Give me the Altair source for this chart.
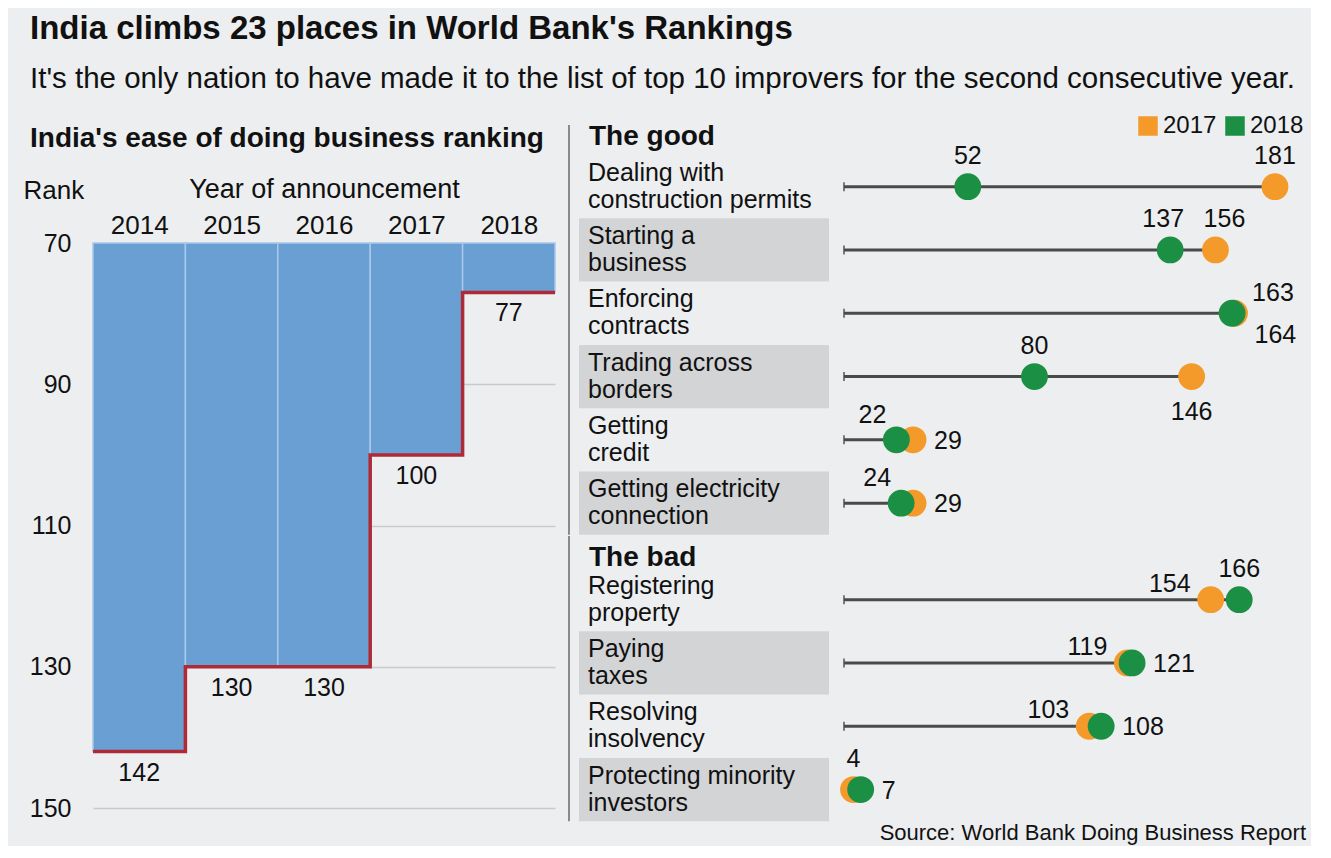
import json
import altair as alt
import pandas as pd

# ---------------- data ----------------
years = ["2014", "2015", "2016", "2017", "2018"]
overall_rank = [142, 130, 130, 100, 77]

good_categories = [
    "Dealing with\nconstruction permits",
    "Starting a\nbusiness",
    "Enforcing\ncontracts",
    "Trading across\nborders",
    "Getting\ncredit",
    "Getting electricity\nconnection",
]
good_2017 = [181, 156, 164, 146, 29, 29]
good_2018 = [52, 137, 163, 80, 22, 24]

bad_categories = [
    "Registering\nproperty",
    "Paying\ntaxes",
    "Resolving\ninsolvency",
    "Protecting minority\ninvestors",
]
bad_2017 = [154, 119, 103, 4]
bad_2018 = [166, 121, 108, 7]

# label placement (style, not data)
good_pos_2017 = ["above", "above-r", "right-below", "below", "right", "right"]
good_pos_2018 = ["above", "above-l", "right-above", "above", "above-left", "above-left"]
bad_pos_2017 = ["left-above", "left-above", "left-above", "above"]
bad_pos_2018 = ["above", "right", "right", "right"]

# ---------------- style ----------------
FONT = "Liberation Sans"
BG = "#eceef0"
BLUE = "#6a9fd4"
RED = "#b02a36"
ORANGE = "#f39a2b"
GREEN = "#1b8f43"
BAND = "#d3d4d6"
TXT = "#111111"
NUM = 25

PLACEMENTS = {
    "above": dict(align="center", dx=0, dy=-31),
    "above-l": dict(align="center", dx=-7, dy=-31),
    "above-r": dict(align="center", dx=9, dy=-31),
    "below": dict(align="center", dx=0, dy=35),
    "right": dict(align="left", dx=21, dy=1),
    "right-above": dict(align="left", dx=20, dy=-20),
    "right-below": dict(align="left", dx=20, dy=22),
    "above-left": dict(align="right", dx=-10, dy=-25),
    "left-above": dict(align="right", dx=-20, dy=-16),
}

# ---------------- left panel ----------------
n = len(years)
ldf = pd.DataFrame({
    "year": years,
    "rank": overall_rank,
    "x0": list(range(n)),
    "x1": list(range(1, n + 1)),
    "xc": [i + 0.5 for i in range(n)],
})
step_df = pd.DataFrame({
    "x": list(range(n + 1)),
    "rank": overall_rank + [overall_rank[-1]],
})

TOP = 88        # space above rank 70 inside the left panel
LH = 653        # left panel height
xs_l = alt.Scale(domain=[0, n], nice=False, zero=False)
ys_l = alt.Scale(domain=[70, 150], range=[TOP, LH], nice=False, zero=False)

x_axis = alt.Axis(
    orient="top", offset=-TOP, values=[i + 0.5 for i in range(n)],
    labelExpr=f"{json.dumps(years)}[floor(datum.value)]",
    ticks=False, domain=False, grid=False,
    labelFontSize=26, labelPadding=5, labelColor=TXT,
    title="Year of announcement", titleFontSize=27, titleFontWeight="normal",
    titlePadding=9, titleColor=TXT,
)
y_axis = alt.Axis(
    values=[70, 90, 110, 130, 150], ticks=False, domain=False, grid=True,
    gridColor="#c9cacc", gridWidth=1.5,
    labelFontSize=25, labelPadding=22, labelColor=TXT,
    title="Rank", titleAngle=0, titleAlign="left", titleBaseline="middle",
    titleX=-70, titleY=35, titleFontSize=26, titleFontWeight="normal", titleColor=TXT,
)

bars = alt.Chart(ldf).mark_bar(color=BLUE, stroke="#a8c9ea", strokeWidth=1.5).encode(
    x=alt.X("x0:Q", scale=xs_l, axis=x_axis),
    x2="x1:Q",
    y=alt.Y("rank:Q", scale=ys_l, axis=y_axis),
    y2=alt.datum(70),
)
step = alt.Chart(step_df).mark_line(interpolate="step-after", color=RED, strokeWidth=3.5).encode(
    x=alt.X("x:Q", scale=xs_l),
    y=alt.Y("rank:Q", scale=ys_l),
)
rank_labels = alt.Chart(ldf).mark_text(dy=21, fontSize=NUM, color=TXT, baseline="middle").encode(
    x=alt.X("xc:Q", scale=xs_l),
    y=alt.Y("rank:Q", scale=ys_l),
    text="rank:Q",
)

left = alt.layer(bars, step, rank_labels).properties(
    width=462, height=LH,
    title=alt.TitleParams(
        "India's ease of doing business ranking", anchor="start", fontSize=28,
        fontWeight="bold", color=TXT, offset=2, dx=7,
    ),
)

# ---------------- right panel ----------------
X0 = 265
PX = 2.381
XMAX = 190
ROW = 63.3


def dumbbell(cats, v17, v18, pos17, pos18, header, legend, extra=None):
    rows = []
    for i, c in enumerate(cats):
        rows.append(dict(cat=c, year="2017", value=v17[i], pos=pos17[i], order=0))
        rows.append(dict(cat=c, year="2018", value=v18[i], pos=pos18[i], order=1))
    pts = pd.DataFrame(rows)
    seg = pd.DataFrame({
        "cat": cats,
        "lo": [0] * len(cats),
        "hi": [max(a, b) for a, b in zip(v17, v18)],
        "shade": [i % 2 == 1 for i in range(len(cats))],
    })
    h = ROW * len(cats)
    y = alt.Y("cat:N", scale=alt.Scale(domain=cats, paddingInner=0, paddingOuter=0), axis=None)
    xs = alt.Scale(domain=[0, XMAX], range=[X0, X0 + XMAX * PX], nice=False, zero=False)

    bands = alt.Chart(seg).transform_filter("datum.shade").mark_rect(color=BAND).encode(
        x=alt.value(0), x2=alt.value(250), y=y,
    )
    names = alt.Chart(seg).mark_text(
        align="left", baseline="middle", fontSize=25, lineBreak="\n", lineHeight=27,
        color=TXT, dy=-14,
    ).encode(x=alt.value(9), y=y, text="cat:N")
    lines = alt.Chart(seg).mark_rule(color="#4a4a4a", strokeWidth=3).encode(
        x=alt.X("lo:Q", scale=xs, axis=None), x2="hi:Q", y=y,
    )
    caps = alt.Chart(seg).mark_tick(color="#4a4a4a", thickness=2, size=9, orient="vertical").encode(
        x=alt.X("lo:Q", scale=xs, axis=None), y=y,
    )
    color = alt.Color(
        "year:N", scale=alt.Scale(domain=["2017", "2018"], range=[ORANGE, GREEN]),
        legend=(alt.Legend(
            orient="none", legendX=557, legendY=-41, direction="horizontal", title=None,
            symbolType="square", symbolSize=380, symbolOpacity=1, labelFontSize=24,
            labelColor=TXT, columnPadding=6, labelOffset=3,
        ) if legend else None),
    )
    dots = alt.Chart(pts).mark_circle(size=720, opacity=1).encode(
        x=alt.X("value:Q", scale=xs, axis=None), y=y, color=color,
        order=alt.Order("order:Q"),
    )
    labels = []
    for name, p in PLACEMENTS.items():
        labels.append(
            alt.Chart(pts).transform_filter(alt.datum.pos == name).mark_text(
                fontSize=NUM, baseline="middle", color=TXT, **p,
            ).encode(x=alt.X("value:Q", scale=xs, axis=None), y=y, text="value:Q")
        )
    one = pd.DataFrame({"a": [0]})
    divider = alt.Chart(one).mark_rule(color="#8a8a8a", strokeWidth=2).encode(
        x=alt.value(-10), y=alt.value(-32 if not legend else -30), y2=alt.value(h),
    )
    head = alt.Chart(one).mark_text(
        text=header, align="left", baseline="middle", fontSize=28, fontWeight="bold", color=TXT,
    ).encode(x=alt.value(10), y=alt.value(-18 if legend else -10))
    layers = [bands, divider, head, names, lines, caps, dots] + labels
    if extra is not None:
        layers.append(extra)
    return alt.layer(*layers).properties(width=730, height=h)


source = alt.Chart(pd.DataFrame({"a": [0]})).mark_text(
    text="Source: World Bank Doing Business Report", align="right", baseline="middle",
    fontSize=22, color=TXT,
).encode(x=alt.value(727), y=alt.value(265))

good = dumbbell(good_categories, good_2017, good_2018, good_pos_2017, good_pos_2018, "The good", True)
bad = dumbbell(bad_categories, bad_2017, bad_2018, bad_pos_2017, bad_pos_2018, "The bad", False, source)

right = alt.vconcat(good, bad, spacing=-1).resolve_scale(color="independent", x="independent", y="independent")

chart = alt.hconcat(left, right, spacing=6).properties(
    title=alt.TitleParams(
        "India climbs 23 places in World Bank's Rankings",
        subtitle="It's the only nation to have made it to the list of top 10 improvers for the second consecutive year.",
        anchor="start", fontSize=33, fontWeight="bold", color=TXT,
        subtitleFontSize=29.5, subtitleColor=TXT, subtitlePadding=19, offset=21, dx=7,
    ),
    padding={"left": 15, "top": 4, "right": 2, "bottom": 2},
).configure(
    background=BG, font=FONT,
).configure_view(stroke=None)

chart.save("out.html", embed_options={"renderer": "svg", "actions": False})
